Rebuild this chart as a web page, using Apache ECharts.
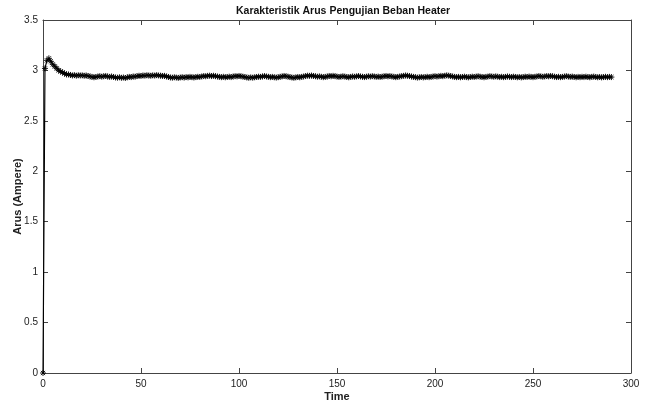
<!DOCTYPE html>
<html>
<head>
<meta charset="utf-8">
<script src="https://cdn.jsdelivr.net/npm/echarts@6/dist/echarts.min.js"></script>
<style>html,body{margin:0;padding:0;background:#fff}#c{width:646px;height:408px}</style>
</head>
<body>
<div id="c"></div>
<script>
const titleText = 'Karakteristik Arus Pengujian Beban Heater';
const xName = 'Time';
const yName = 'Arus (Ampere)';
const arus = [
0, 3.02, 3.10, 3.12, 3.09, 3.06, 3.04, 3.02, 3.00, 2.99,
2.98, 2.97, 2.96, 2.96, 2.955, 2.95, 2.953, 2.948, 2.952, 2.95,
2.951, 2.947, 2.95, 2.945, 2.94, 2.936, 2.932, 2.935, 2.94, 2.943,
2.938, 2.942, 2.945, 2.94, 2.936, 2.94, 2.935, 2.93, 2.928, 2.932,
2.927, 2.93, 2.925, 2.932, 2.936, 2.934, 2.94, 2.938, 2.944, 2.947,
2.945, 2.95, 2.948, 2.952, 2.95, 2.947, 2.951, 2.949, 2.953, 2.95,
2.948, 2.945, 2.946, 2.94, 2.935, 2.93, 2.928, 2.932, 2.929, 2.926,
2.93, 2.933, 2.929, 2.934, 2.931, 2.936, 2.933, 2.93, 2.934, 2.937,
2.935, 2.94, 2.944, 2.942, 2.946, 2.948, 2.944, 2.947, 2.943, 2.94,
2.936, 2.933, 2.937, 2.932, 2.935, 2.938, 2.934, 2.94, 2.943, 2.941,
2.945, 2.942, 2.938, 2.935, 2.93, 2.927, 2.931, 2.928, 2.932, 2.935,
2.938, 2.936, 2.941, 2.944, 2.94, 2.937, 2.933, 2.936, 2.932, 2.929,
2.933, 2.937, 2.941, 2.945, 2.942, 2.938, 2.934, 2.93, 2.927, 2.931,
2.935, 2.932, 2.936, 2.94, 2.944, 2.948, 2.946, 2.949, 2.945, 2.942,
2.938, 2.941, 2.937, 2.933, 2.936, 2.94, 2.945, 2.942, 2.946, 2.943,
2.939, 2.935, 2.938, 2.942, 2.939, 2.935, 2.932, 2.936, 2.94, 2.937,
2.941, 2.944, 2.94, 2.937, 2.934, 2.938, 2.942, 2.939, 2.943, 2.94,
2.936, 2.939, 2.935, 2.938, 2.942, 2.945, 2.941, 2.944, 2.94, 2.937,
2.933, 2.936, 2.94, 2.943, 2.946, 2.95, 2.947, 2.944, 2.94, 2.936,
2.933, 2.929, 2.932, 2.935, 2.931, 2.934, 2.937, 2.933, 2.936, 2.94,
2.943, 2.939, 2.942, 2.946, 2.943, 2.947, 2.951, 2.948, 2.944, 2.94,
2.936, 2.933, 2.936, 2.932, 2.935, 2.938, 2.934, 2.931, 2.935, 2.938,
2.935, 2.939, 2.942, 2.938, 2.935, 2.932, 2.936, 2.939, 2.943, 2.94,
2.937, 2.941, 2.938, 2.934, 2.937, 2.933, 2.936, 2.94, 2.937, 2.934,
2.938, 2.935, 2.932, 2.935, 2.931, 2.934, 2.938, 2.935, 2.939, 2.936,
2.933, 2.937, 2.94, 2.944, 2.941, 2.937, 2.94, 2.944, 2.941, 2.945,
2.942, 2.938, 2.934, 2.937, 2.933, 2.936, 2.94, 2.943, 2.939, 2.936,
2.939, 2.935, 2.932, 2.936, 2.933, 2.937, 2.934, 2.938, 2.935, 2.932,
2.936, 2.939, 2.935, 2.932, 2.935, 2.931, 2.934, 2.937, 2.933, 2.936,
2.934
];
const time = arus.map((v, i) => i);
const xTicks = [0, 50, 100, 150, 200, 250, 300];
const yTicks = [0, 0.5, 1, 1.5, 2, 2.5, 3, 3.5];

const font = 'Liberation Sans, Arial, sans-serif';
const axisColor = '#444';
const labelStyle = {color: '#222', fontSize: 10, fontFamily: font};
const star = 'path://M5,0L5,10M0,5L10,5M1.5,1.5L8.5,8.5M1.5,8.5L8.5,1.5';

function xAx(pos, show) {
  return {
    type: 'value', position: pos, min: xTicks[0], max: xTicks[xTicks.length - 1], interval: 50,
    name: show ? xName : '', nameLocation: 'middle', nameGap: 18, nameMoveOverlap: false,
    nameTextStyle: {color: '#222', fontSize: 11, fontWeight: 'bold', fontFamily: font},
    axisLine: {show: true, onZero: false, lineStyle: {color: axisColor, width: 1}},
    axisTick: {show: true, inside: true, length: 5, lineStyle: {color: axisColor}},
    axisLabel: {show: show, margin: 6, ...labelStyle},
    splitLine: {show: false}
  };
}
function yAx(pos, show) {
  return {
    type: 'value', position: pos, min: yTicks[0], max: yTicks[yTicks.length - 1], interval: 0.5,
    name: show ? yName : '', nameLocation: 'middle', nameGap: 20, nameRotate: 90, nameMoveOverlap: false,
    nameTextStyle: {color: '#222', fontSize: 11, fontWeight: 'bold', fontFamily: font},
    axisLine: {show: true, onZero: false, lineStyle: {color: axisColor, width: 1}},
    axisTick: {show: true, inside: true, length: 5, lineStyle: {color: axisColor}},
    axisLabel: {show: show, margin: 5, ...labelStyle},
    splitLine: {show: false}
  };
}

const chart = echarts.init(document.getElementById('c'), null, {renderer: 'canvas'});
chart.setOption({
  animation: false,
  backgroundColor: '#fff',
  title: {
    text: titleText, left: 231, top: 1,
    textStyle: {fontSize: 10.5, fontWeight: 'bold', color: '#111', fontFamily: font}
  },
  grid: {left: 43, right: 15, top: 20, bottom: 35, containLabel: false, outerBoundsMode: 'none'},
  xAxis: [xAx('bottom', true), xAx('top', false)],
  yAxis: [yAx('left', true), yAx('right', false)],
  series: [{
    type: 'line',
    xAxisIndex: 0, yAxisIndex: 0,
    data: time.map((t, i) => [t, arus[i]]),
    showSymbol: true,
    symbol: star,
    symbolSize: 6,
    itemStyle: {color: 'rgba(0,0,0,0)', borderColor: '#000', borderWidth: 0.9},
    lineStyle: {color: '#000', width: 1.2},
    emphasis: {disabled: true}
  }]
});
</script>
</body>
</html>
